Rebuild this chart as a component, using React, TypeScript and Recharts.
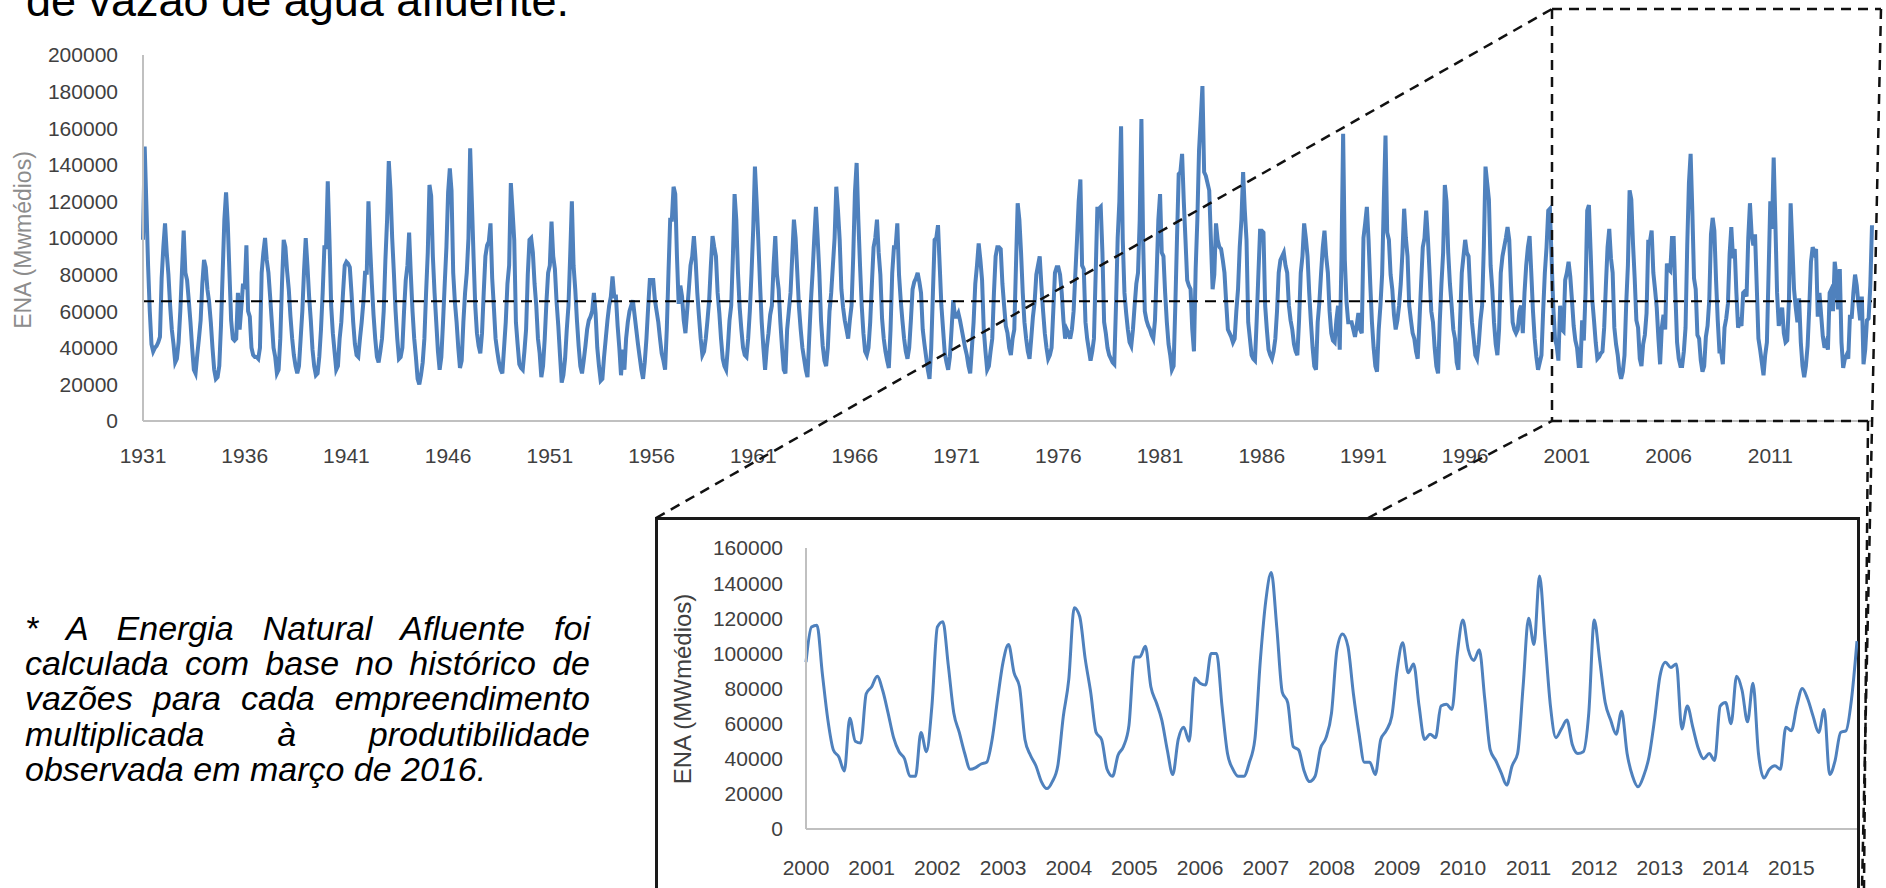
import { LineChart, Line, XAxis, YAxis, ReferenceLine } from 'recharts'

// ENA mensal (mil MWmédios), jan/1931 a jan/2016
const ena1930s = [
  99, 150, 118, 85, 60, 42, 38, 40, 41, 43, 46, 78,
  95, 108, 92, 80, 63, 50, 42, 32, 34, 43, 60, 82,
  104, 81, 77, 66, 54, 40, 28, 26, 36, 45, 55, 75,
  88, 84, 72, 65, 54, 40, 28, 23, 24, 30, 52, 81,
  110, 125, 108, 81, 55, 45, 44, 45, 70, 50, 62, 75,
  72, 96, 60, 57, 40, 36, 35, 35, 34, 40, 81, 92,
  100, 88, 81, 68, 54, 40, 35, 26, 28, 45, 75, 99,
  95, 82, 72, 57, 45, 36, 30, 26, 30, 45, 60, 82,
  100, 85, 68, 55, 39, 30, 25, 26, 35, 50, 70, 95,
]
const ena1940s = [
  95, 131, 99, 63, 48, 38, 28, 30, 45, 54, 70, 85,
  87, 86, 84, 70, 54, 42, 36, 35, 45, 54, 65, 81,
  81, 120, 95, 75, 58, 45, 35, 32, 38, 45, 60, 88,
  110, 142, 126, 100, 81, 60, 45, 34, 35, 40, 60, 77,
  85, 103, 80, 60, 45, 35, 23, 20, 25, 32, 45, 70,
  92, 129, 123, 90, 70, 54, 38, 28, 35, 54, 75, 95,
  125, 138, 126, 81, 65, 54, 40, 29, 33, 54, 70, 81,
  100, 149, 120, 90, 63, 48, 41, 37, 48, 70, 90, 96,
  98, 108, 78, 62, 45, 38, 32, 28, 26, 40, 54, 75,
  85, 130, 115, 99, 54, 42, 31, 29, 28, 38, 50, 80,
]
const ena1950s = [
  99, 100, 92, 75, 63, 45, 37, 24, 30, 45, 65, 81,
  85, 109, 90, 83, 65, 52, 36, 21, 25, 34, 50, 63,
  90, 120, 85, 72, 55, 41, 30, 26, 33, 41, 50, 55,
  57, 60, 70, 59, 40, 30, 22, 23, 35, 45, 55, 63,
  68, 79, 68, 68, 52, 40, 25, 39, 28, 45, 54, 60,
  63, 66, 58, 50, 42, 35, 28, 23, 32, 45, 62, 77,
  77, 77, 66, 60, 54, 45, 37, 33, 28, 50, 81, 110,
  110, 128, 124, 90, 64, 74, 68, 55, 48, 60, 72, 85,
  90, 101, 88, 70, 57, 45, 36, 38, 45, 55, 66, 85,
  101, 95, 90, 70, 59, 45, 34, 30, 28, 40, 55, 63,
]
const ena1960s = [
  90, 124, 110, 81, 62, 50, 40, 36, 35, 45, 60, 81,
  105, 139, 120, 99, 75, 54, 40, 28, 40, 48, 58, 63,
  85, 101, 80, 72, 54, 40, 28, 26, 50, 60, 70, 90,
  110, 100, 81, 62, 50, 40, 34, 28, 24, 45, 65, 81,
  100, 117, 100, 81, 55, 41, 33, 30, 40, 60, 70, 85,
  100, 128, 115, 99, 72, 62, 55, 50, 45, 55, 63, 90,
  125, 141, 110, 85, 63, 48, 38, 36, 40, 54, 75, 95,
  100, 110, 92, 80, 56, 45, 38, 33, 29, 50, 81, 95,
  95, 108, 80, 66, 55, 45, 38, 34, 40, 55, 72, 76,
  78, 81, 76, 70, 50, 42, 35, 28, 23, 40, 70, 99,
]
const ena1970s = [
  100, 107, 85, 63, 50, 37, 32, 28, 35, 50, 66, 57,
  57, 59, 55, 50, 45, 40, 36, 30, 26, 40, 54, 75,
  85, 97, 88, 77, 50, 38, 28, 30, 38, 45, 70, 90,
  95, 95, 94, 75, 63, 52, 48, 40, 36, 45, 50, 85,
  119, 110, 92, 70, 54, 45, 38, 34, 45, 57, 65, 80,
  85, 90, 74, 60, 48, 40, 34, 36, 40, 60, 81, 84,
  84, 80, 70, 55, 45, 50, 48, 45, 50, 60, 80, 99,
  120, 132, 85, 83, 54, 45, 39, 33, 38, 45, 80, 116,
  116, 117, 92, 54, 48, 40, 36, 34, 32, 31, 63, 100,
  120, 161, 99, 70, 59, 50, 43, 41, 50, 63, 75, 81,
]
const ena1980s = [
  110, 165, 99, 60, 55, 52, 50, 47, 45, 55, 81, 110,
  124, 92, 90, 70, 54, 42, 36, 28, 30, 63, 100, 135,
  136, 146, 120, 99, 77, 74, 72, 50, 38, 83, 110, 148,
  165, 183, 136, 134, 130, 126, 99, 72, 80, 108, 99, 95,
  94, 88, 81, 65, 50, 48, 46, 43, 45, 60, 72, 95,
  110, 136, 115, 99, 54, 45, 36, 34, 33, 55, 80, 104,
  104, 103, 63, 50, 39, 36, 34, 38, 45, 60, 81, 88,
  90, 92, 85, 81, 63, 55, 50, 42, 38, 36, 55, 81,
  90, 108, 100, 90, 70, 54, 40, 30, 28, 54, 65, 81,
  95, 104, 90, 81, 60, 48, 44, 43, 55, 63, 39, 88,
]
const ena1990s = [
  157, 88, 65, 54, 54, 54, 50, 46, 52, 59, 50, 48,
  100, 108, 117, 99, 75, 54, 40, 30, 27, 50, 63, 80,
  120, 156, 103, 99, 80, 72, 58, 50, 55, 63, 75, 92,
  116, 100, 90, 63, 55, 48, 45, 38, 34, 54, 75, 95,
  100, 115, 100, 81, 60, 54, 40, 30, 26, 54, 75, 92,
  129, 120, 92, 75, 63, 50, 45, 32, 28, 55, 81, 90,
  99, 92, 90, 70, 54, 45, 36, 34, 42, 55, 63, 95,
  139, 130, 121, 85, 72, 54, 42, 36, 50, 81, 90, 95,
  100, 106, 99, 75, 54, 50, 48, 50, 60, 63, 48, 70,
  85, 95, 101, 81, 60, 45, 35, 28, 32, 36, 60, 81,
]
const ena2000s = [
  95, 115, 116, 88, 62, 45, 41, 33, 63, 50, 49, 77,
  81, 87, 79, 66, 52, 44, 40, 30, 30, 55, 44, 70,
  115, 118, 93, 66, 55, 43, 34, 35, 37, 38, 51, 74,
  95, 105, 89, 81, 51, 42, 36, 27, 23, 27, 36, 64,
  85, 126, 121, 97, 78, 55, 51, 34, 30, 42, 47, 59,
  98, 98, 104, 81, 72, 62, 45, 31, 51, 58, 50, 86,
  83, 82, 100, 100, 70, 43, 34, 30, 30, 38, 51, 96,
  130, 146, 115, 78, 72, 47, 45, 33, 27, 30, 46, 52,
  66, 102, 111, 104, 77, 55, 38, 38, 31, 51, 56, 64,
  91, 106, 89, 94, 70, 51, 54, 52, 70, 71, 68, 100,
]
const ena2010s = [
  119, 102, 96, 102, 74, 45, 39, 32, 25, 36, 43, 81,
  120, 105, 144, 108, 70, 52, 57, 62, 48, 43, 44, 66,
  119, 96, 72, 62, 54, 67, 43, 30, 24, 30, 41, 62,
  87, 95, 92, 94, 57, 70, 58, 46, 40, 43, 39, 70,
  72, 60, 87, 79, 61, 83, 43, 29, 34, 36, 34, 58,
  56, 70, 80, 74, 64, 55, 68, 31, 39, 55, 56, 74,
  107,
]

const mediaLongoPrazo = 65500
const ticksTopo = [1931, 1936, 1941, 1946, 1951, 1956, 1961, 1966, 1971, 1976, 1981, 1986, 1991, 1996, 2001, 2006, 2011]
const ticksDetalhe = [2000, 2001, 2002, 2003, 2004, 2005, 2006, 2007, 2008, 2009, 2010, 2011, 2012, 2013, 2014, 2015]
const ticksYTopo = [0, 20000, 40000, 60000, 80000, 100000, 120000, 140000, 160000, 180000, 200000]
const ticksYDetalhe = [0, 20000, 40000, 60000, 80000, 100000, 120000, 140000, 160000]

const serie = [...ena1930s, ...ena1940s, ...ena1950s, ...ena1960s, ...ena1970s, ...ena1980s, ...ena1990s, ...ena2000s, ...ena2010s]
  .map((v, i) => ({ t: 1931 + i / 12, ena: v * 1000 }))
const detalhe = serie.filter((d) => d.t >= 2000)

const AZUL = '#4f81bd'
const FONTE = '"Liberation Sans", Arial, sans-serif'
const tick = { fill: '#404040', fontSize: 21, fontFamily: FONTE }
const eixo = { stroke: '#c0c0c0', strokeWidth: 2 }
const tracejado = { stroke: '#111', strokeWidth: 2.5, strokeDasharray: '10 7', fill: 'none' }

export default function App() {
  return (
    <div style={{ position: 'fixed', left: 0, top: 0, width: 1886, height: 888, overflow: 'hidden', background: '#fff' }}>
      <div style={{ position: 'absolute', left: 26, top: -22, fontSize: 45, lineHeight: '45px', fontFamily: FONTE, whiteSpace: 'nowrap', color: '#000' }}>
        de vazão de água afluente.
      </div>

      <div style={{ position: 'absolute', left: 0, top: 0 }}>
        <LineChart width={1886} height={480} data={serie} margin={{ top: 55, right: 14, bottom: 19, left: 0 }}>
          <XAxis dataKey="t" type="number" domain={[1931, 2016]} ticks={ticksTopo} axisLine={eixo} tickLine={false}
            tick={tick} tickMargin={21} height={40} />
          <YAxis type="number" domain={[0, 200000]} ticks={ticksYTopo} axisLine={eixo} tickLine={false}
            tick={tick} tickMargin={19} width={143} />
          <Line type="linear" dataKey="ena" stroke={AZUL} strokeWidth={4} dot={false} isAnimationActive={false} />
          <ReferenceLine y={mediaLongoPrazo} stroke="#000" strokeWidth={2} strokeDasharray="11 7" />
        </LineChart>
      </div>

      <div style={{ position: 'absolute', left: 25, top: 611, width: 565, fontFamily: FONTE, fontStyle: 'italic', fontSize: 34, lineHeight: '35.2px', textAlign: 'justify', color: '#000' }}>
        * A Energia Natural Afluente foi calculada com base no histórico de vazões para cada empreendimento multiplicada à produtibilidade observada em março de 2016.
      </div>

      <div style={{ position: 'absolute', left: 655, top: 517, width: 1205, height: 420, border: '3px solid #1a1a1a', boxSizing: 'border-box', background: '#fff' }} />
      <div style={{ position: 'absolute', left: 656, top: 518 }}>
        <LineChart width={1202} height={370} data={detalhe} margin={{ top: 30, right: 1, bottom: 24, left: 0 }}>
          <XAxis dataKey="t" type="number" domain={[2000, 2016]} ticks={ticksDetalhe} axisLine={eixo} tickLine={false}
            tick={tick} tickMargin={25} height={35} />
          <YAxis type="number" domain={[0, 160000]} ticks={ticksYDetalhe} axisLine={eixo} tickLine={false}
            tick={tick} tickMargin={17} width={150} />
          <Line type="monotone" dataKey="ena" stroke={AZUL} strokeWidth={3} dot={false} isAnimationActive={false} />
        </LineChart>
      </div>

      <svg width={1886} height={888} style={{ position: 'absolute', left: 0, top: 0, pointerEvents: 'none' }}>
        <text x={23} y={240} transform="rotate(-90 23 240)" textAnchor="middle" dominantBaseline="central"
          fontFamily={FONTE} fontSize={23} fill="#8c8c8c">ENA (Mwmédios)</text>
        <text x={682} y={689} transform="rotate(-90 682 689)" textAnchor="middle" dominantBaseline="central"
          fontFamily={FONTE} fontSize={24} fill="#404040">ENA (MWmédios)</text>
        <line x1={1552} y1={9} x2={1881} y2={9} {...tracejado} />
        <line x1={1552} y1={9} x2={1552} y2={421} {...tracejado} />
        <line x1={1552} y1={421} x2={1868} y2={421} {...tracejado} />
        <line x1={1881} y1={9} x2={1862} y2={888} {...tracejado} />
        <line x1={1868} y1={421} x2={1864} y2={888} {...tracejado} />
        <line x1={656} y1={518} x2={1552} y2={9} {...tracejado} />
        <line x1={1368} y1={518} x2={1552} y2={421} {...tracejado} />
      </svg>
    </div>
  )
}
